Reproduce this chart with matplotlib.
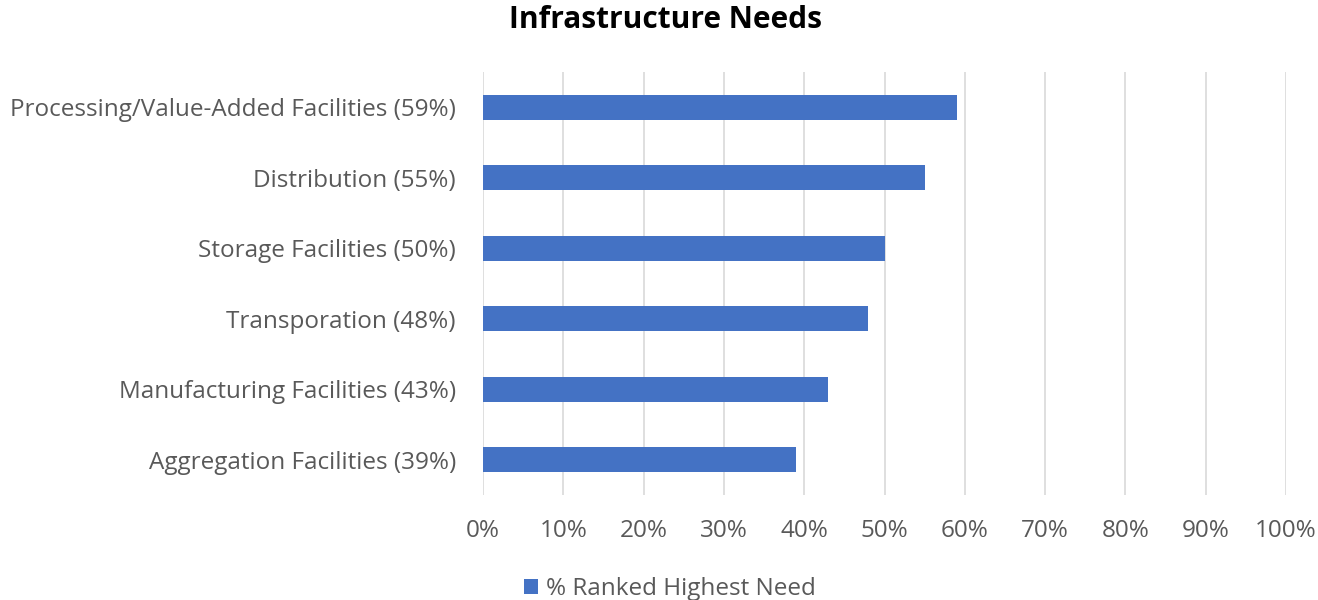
import matplotlib.pyplot as plt
import numpy as np

categories = ['Aggregation Facilities (39%)', 'Manufacturing Facilities (43%)',
              'Transporation (48%)', 'Storage Facilities (50%)',
              'Distribution (55%)', 'Processing/Value-Added Facilities (59%)']
values = [39, 43, 48, 50, 55, 59]
xticks = list(range(0, 101, 10))

plt.rcParams['font.family'] = ['Open Sans', 'DejaVu Sans']

fig = plt.figure(figsize=(13.18, 6), dpi=100)
ax = fig.add_axes([0.3665, 0.175, 0.6092, 0.705])

y = np.arange(len(categories))
bars = ax.barh(y, values, height=0.355, color='#4472C4', label='% Ranked Highest Need', zorder=3)

ax.set_xlim(0, 100)
ax.set_ylim(-0.5, len(categories) - 0.5)
ax.set_xticks(xticks)
ax.set_xticklabels([f'{t}%' for t in xticks], fontsize=17.5, color='#595959')
ax.set_yticks(y)
ax.set_yticklabels(categories, fontsize=17.5, color='#595959')
ax.tick_params(axis='x', length=0, pad=17)
ax.tick_params(axis='y', length=0, pad=19.5)
ax.grid(axis='x', color='#d9d9d9', linewidth=1.2, zorder=0)
for s in ax.spines.values():
    s.set_visible(False)

fig.text(0.505, 0.967, 'Infrastructure Needs', ha='center', va='center',
         fontsize=21.5, fontweight='bold', color='black')

fig.legend(handles=[bars], labels=['% Ranked Highest Need'], loc='center',
           bbox_to_anchor=(0.508, 0.018), frameon=False, fontsize=17.5,
           handlelength=0.6, handleheight=0.6, handletextpad=0.3,
           labelcolor='#595959')

fig.savefig('out.png', dpi=100)
